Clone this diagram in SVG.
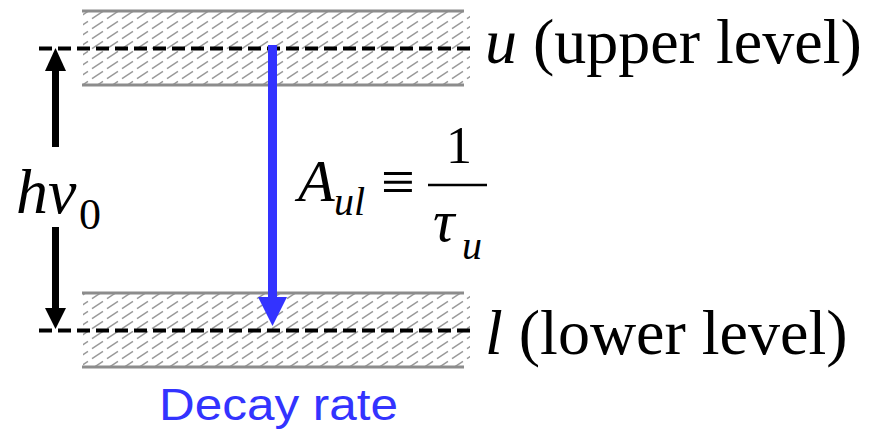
<svg xmlns="http://www.w3.org/2000/svg" width="877" height="435" viewBox="0 0 877 435">
<style>
.serif{font-family:"Liberation Serif","Times New Roman",serif;fill:#000}
.it{font-style:italic}
.band{stroke:#8c8c8c;stroke-width:3}
.level{stroke:#000;stroke-width:4;stroke-dasharray:13 6}
</style>
<defs>
<pattern id="hatch" patternUnits="userSpaceOnUse" width="15" height="10">
<line x1="2" y1="8.6" x2="13" y2="1.4" stroke="#999" stroke-width="1.5"/>
</pattern>
</defs>
<g id="upper-band">
<rect x="83" y="12" width="387" height="72" fill="url(#hatch)"/>
<line class="band" x1="82" y1="11" x2="464" y2="11"/>
<line class="band" x1="82" y1="85" x2="464" y2="85"/>
</g>
<g id="lower-band">
<rect x="83" y="294" width="387" height="72" fill="url(#hatch)"/>
<line class="band" x1="82" y1="293" x2="464" y2="293"/>
<line class="band" x1="82" y1="367" x2="464" y2="367"/>
</g>
<g id="connectors">
<line class="level" x1="39" y1="48.5" x2="470" y2="48.5"/>
<line class="level" x1="39" y1="330.5" x2="470" y2="330.5"/>
<rect x="52" y="70" width="7" height="77" fill="#000"/>
<polygon points="55.5,48 45,71 66,71" fill="#000"/>
<rect x="52" y="227" width="7" height="82" fill="#000"/>
<polygon points="55.5,329 45,308 66,308" fill="#000"/>
<rect x="268" y="45" width="9" height="253" fill="#3333ff"/>
<polygon points="272.5,326 258,297 287,297" fill="#3333ff"/>
</g>
<g id="label-upper">
<text class="serif" x="485" y="63" font-size="64"><tspan class="it">u</tspan> (upper level)</text>
</g>
<g id="label-lower">
<text class="serif" x="485" y="354" font-size="64"><tspan class="it">l</tspan> (lower level)</text>
</g>
<g id="label-energy">
<text class="serif it" x="16" y="213" font-size="64">hν</text>
<text class="serif" x="79" y="229" font-size="44">0</text>
</g>
<g id="label-rate">
<text class="serif it" x="298" y="201" font-size="60">A</text>
<text class="serif it" x="334" y="215" font-size="40">ul</text>
<text class="serif" x="381" y="202" font-size="60">≡</text>
<text class="serif" x="446" y="163" font-size="52">1</text>
<line x1="428" y1="185" x2="487" y2="185" stroke="#000" stroke-width="2.5"/>
<text class="serif it" x="433" y="241" font-size="60">τ</text>
<text class="serif it" x="462" y="259" font-size="40">u</text>
</g>
<g id="label-decay">
<text x="159" y="420" font-family="Liberation Sans, Arial, sans-serif" font-size="44" fill="#3333ff" textLength="239" lengthAdjust="spacingAndGlyphs">Decay rate</text>
</g>
</svg>
